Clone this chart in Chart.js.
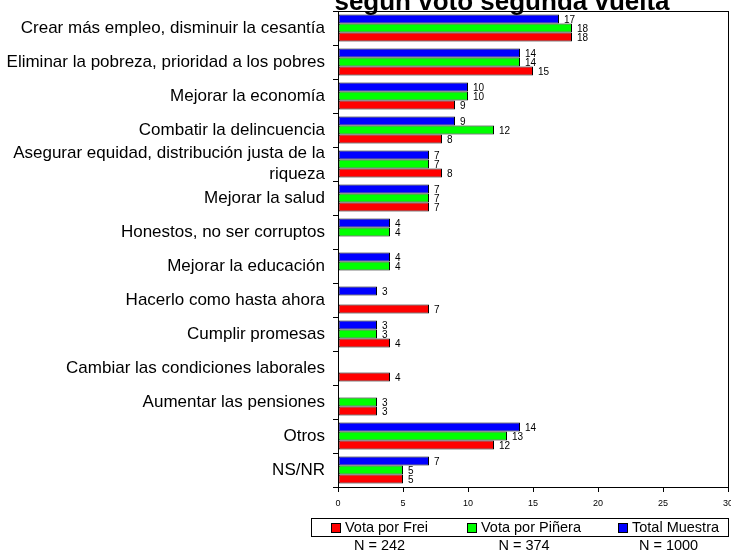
<!DOCTYPE html>
<html>
<head>
<meta charset="utf-8">
<script src="https://cdn.jsdelivr.net/npm/chart.js@4/dist/chart.umd.min.js"></script>
<style>
  html, body { margin: 0; padding: 0; background: #fff; }
  canvas { display: block; }
</style>
</head>
<body>
<canvas id="chart" width="731" height="551"></canvas>
<script>
const categories = [
  "Crear más empleo, disminuir la cesantía",
  "Eliminar la pobreza, prioridad a los pobres",
  "Mejorar la economía",
  "Combatir la delincuencia",
  ["Asegurar equidad, distribución justa de la", "riqueza"],
  "Mejorar la salud",
  "Honestos, no ser corruptos",
  "Mejorar la educación",
  "Hacerlo como hasta ahora",
  "Cumplir promesas",
  "Cambiar las condiciones laborales",
  "Aumentar las pensiones",
  "Otros",
  "NS/NR"
];
const totalMuestra = [17, 14, 10, 9, 7, 7, 4, 4, 3, 3, null, null, 14, 7];
const votaPinera   = [18, 14, 10, 12, 7, 7, 4, 4, null, 3, null, 3, 13, 5];
const votaFrei     = [18, 15, 9, 8, 8, 7, null, null, 7, 4, 4, 3, 12, 5];
const xTicks = [0, 5, 10, 15, 20, 25, 30];
const legendItems = [
  { text: "Vota por Frei", n: "N = 242", color: "#ff0000" },
  { text: "Vota por Piñera", n: "N = 374", color: "#00ff00" },
  { text: "Total Muestra", n: "N = 1000", color: "#0000ff" }
];
const titleText = "según voto segunda vuelta";

// value labels beside each bar
const valueLabels = {
  id: "valueLabels",
  afterDatasetsDraw(chart) {
    const ctx = chart.ctx;
    ctx.save();
    ctx.font = '10px "Liberation Sans Narrow", "Arial Narrow", "Liberation Sans", sans-serif';
    ctx.fillStyle = "#000";
    ctx.textAlign = "left";
    ctx.textBaseline = "middle";
    chart.data.datasets.forEach((ds, i) => {
      chart.getDatasetMeta(i).data.forEach((bar, j) => {
        const v = ds.data[j];
        if (v == null) return;
        ctx.fillText(v, bar.x + 5, bar.y + 1);
      });
    });
    ctx.restore();
  }
};

// frame, title and legend box
const decorations = {
  id: "decorations",
  afterDraw(chart) {
    const ctx = chart.ctx;
    const a = chart.chartArea;
    ctx.save();
    ctx.strokeStyle = "#000";
    ctx.lineWidth = 1;
    ctx.strokeRect(a.left + 0.5, a.top + 0.5, a.right - a.left, a.bottom - a.top);

    ctx.font = 'bold 26px "Liberation Sans", Arial, sans-serif';
    ctx.fillStyle = "#000";
    ctx.textAlign = "center";
    ctx.textBaseline = "alphabetic";
    ctx.fillText(titleText, 502, 10);

    ctx.strokeRect(311.5, 518.5, 417, 18);
    ctx.font = '14.5px "Liberation Sans", Arial, sans-serif';
    ctx.textAlign = "left";
    ctx.textBaseline = "middle";
    const starts = [331, 467, 618];
    legendItems.forEach((it, i) => {
      const x = starts[i];
      ctx.fillStyle = it.color;
      ctx.fillRect(x, 523, 9, 9);
      ctx.strokeRect(x + 0.5, 523.5, 9, 9);
      ctx.fillStyle = "#000";
      ctx.fillText(it.text, x + 14, 528);
      const w = 14 + ctx.measureText(it.text).width;
      ctx.textAlign = "center";
      ctx.fillText(it.n, x + w / 2, 546);
      ctx.textAlign = "left";
    });
    ctx.restore();
  }
};

new Chart(document.getElementById("chart"), {
  type: "bar",
  data: {
    labels: categories,
    datasets: [
      { label: "Total Muestra", data: totalMuestra, backgroundColor: "#0000ff" },
      { label: "Vota por Piñera", data: votaPinera, backgroundColor: "#00ff00" },
      { label: "Vota por Frei", data: votaFrei, backgroundColor: "#ff0000" }
    ].map(d => Object.assign(d, {
      borderColor: "#000",
      borderWidth: 1,
      borderSkipped: false,
      categoryPercentage: 0.8,
      barPercentage: 1.0
    }))
  },
  options: {
    indexAxis: "y",
    responsive: false,
    animation: false,
    layout: { padding: { top: 11, right: 3, bottom: 0, left: 0 } },
    scales: {
      x: {
        min: 0,
        max: 30,
        afterFit: s => { s.height = 64; s.paddingLeft = 0; s.paddingRight = 0; },
        afterBuildTicks: s => { s.ticks = xTicks.map(v => ({ value: v })); },
        grid: { display: true, drawOnChartArea: false, drawTicks: true, tickLength: 5, color: "#000" },
        border: { display: true, color: "#000" },
        ticks: {
          padding: 6,
          color: "#000",
          maxRotation: 0,
          font: { family: '"Liberation Sans", Arial, sans-serif', size: 9 }
        }
      },
      y: {
        afterFit: s => { s.width = 338; s.paddingTop = 0; s.paddingBottom = 0; },
        grid: { display: true, drawOnChartArea: false, drawTicks: true, tickLength: 5, color: "#000", offset: true },
        border: { display: true, color: "#000" },
        ticks: {
          autoSkip: false,
          padding: 8,
          color: "#000",
          font: { family: '"Liberation Sans", Arial, sans-serif', size: 17, lineHeight: 1.25 }
        }
      }
    },
    plugins: {
      legend: { display: false },
      title: { display: false },
      tooltip: { enabled: false }
    }
  },
  plugins: [valueLabels, decorations]
});
</script>
</body>
</html>
